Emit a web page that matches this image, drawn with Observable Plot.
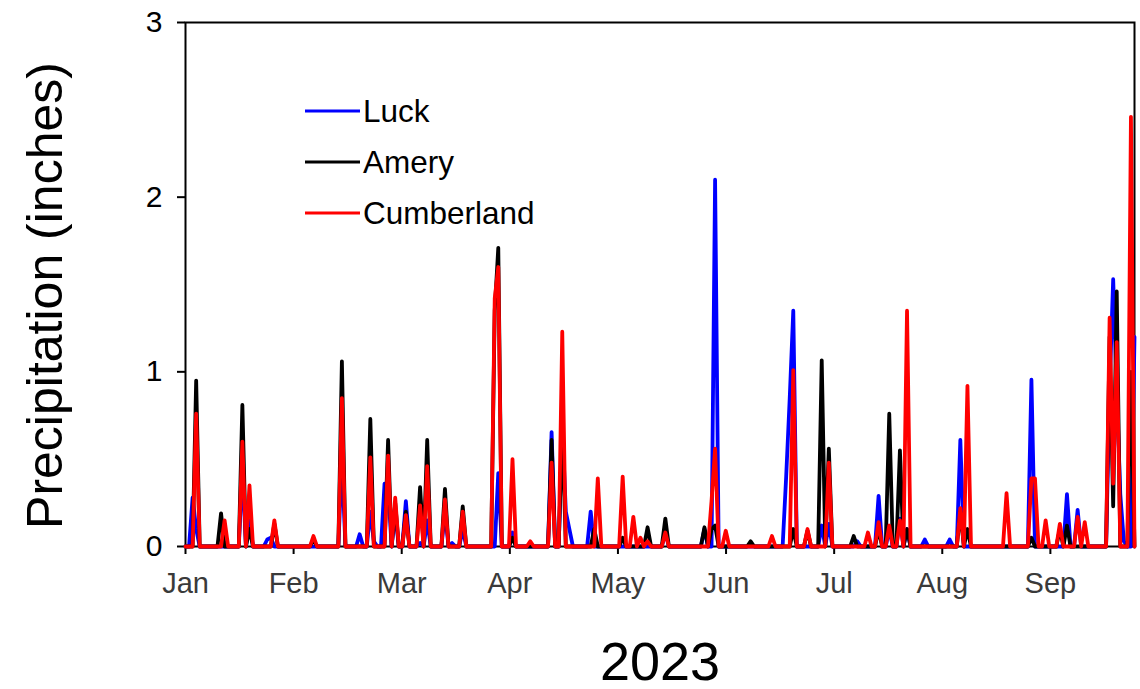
<!DOCTYPE html>
<html>
<head>
<meta charset="utf-8">
<script src="https://cdn.jsdelivr.net/npm/d3@7"></script>
<script src="https://cdn.jsdelivr.net/npm/@observablehq/plot@0.6"></script>
<style>
  html, body { margin: 0; padding: 0; background: #fff; }
  #chart { position: relative; width: 1140px; height: 689px; font-family: "Liberation Sans", Arial, sans-serif; }
  #legend { position: absolute; left: 0; top: 0; pointer-events: none; }
</style>
</head>
<body>
<div id="chart"></div>
<script>
// Daily precipitation (inches), 2023. Day index 0 = Jan 1; days not listed had no rain.
const stations = ["Luck", "Amery", "Cumberland"];
const stationColors = ["#0000ff", "#000000", "#ff0000"];
const monthLabels = ["Jan", "Feb", "Mar", "Apr", "May", "Jun", "Jul", "Aug", "Sep"];
const lastDay = 267;

const luckRain = [
  [2, 0.28], [3, 0.10], [16, 0.45], [18, 0.15], [23, 0.04], [24, 0.05],
  [44, 0.50], [49, 0.07], [52, 0.20], [53, 0.03], [56, 0.36], [57, 0.33], [59, 0.20],
  [62, 0.26], [66, 0.02], [68, 0.15], [73, 0.20], [75, 0.02], [78, 0.10], [88, 0.42], [92, 0.08],
  [103, 0.655], [106, 0.70], [107, 0.20], [108, 0.10], [114, 0.20],
  [135, 0.08], [146, 0.10], [149, 2.10],
  [169, 0.40], [170, 0.85], [171, 1.35], [179, 0.12], [181, 0.13],
  [189, 0.03], [195, 0.29], [198, 0.10], [201, 0.16], [203, 0.10], [208, 0.04], [215, 0.04],
  [218, 0.61], [238, 0.955],
  [248, 0.30], [251, 0.21], [260, 0.90], [261, 1.53], [262, 0.90], [263, 0.30], [264, 0.03], [267, 1.20]
];

const ameryRain = [
  [3, 0.95], [10, 0.19], [16, 0.81], [18, 0.10], [25, 0.13],
  [36, 0.04], [44, 1.06], [52, 0.73], [57, 0.61], [59, 0.25],
  [62, 0.20], [66, 0.34], [68, 0.61], [73, 0.33], [78, 0.23], [87, 1.35], [88, 1.71], [92, 0.05],
  [103, 0.61], [106, 0.71], [115, 0.10], [123, 0.05],
  [130, 0.11], [135, 0.16], [146, 0.11], [148, 0.10], [149, 0.12],
  [159, 0.03], [171, 0.10], [175, 0.09], [179, 1.066], [181, 0.56],
  [188, 0.06], [195, 0.10], [198, 0.76], [201, 0.55], [203, 0.10],
  [218, 0.20], [220, 0.10], [238, 0.05],
  [246, 0.10], [248, 0.12], [260, 1.20], [261, 0.23], [262, 1.46], [266, 1.00]
];

const cumberlandRain = [
  [3, 0.76], [11, 0.15], [16, 0.60], [18, 0.35], [25, 0.15],
  [36, 0.06], [44, 0.85], [52, 0.51], [57, 0.52], [59, 0.28],
  [62, 0.18], [66, 0.235], [68, 0.46], [73, 0.27], [78, 0.20], [87, 1.42], [88, 1.60], [92, 0.50],
  [97, 0.03], [103, 0.48], [106, 1.23], [116, 0.39], [123, 0.40],
  [126, 0.17], [128, 0.05], [130, 0.03], [135, 0.08], [148, 0.26], [149, 0.56], [152, 0.09],
  [165, 0.06], [171, 1.01], [175, 0.10], [181, 0.48],
  [192, 0.08], [195, 0.14], [198, 0.12], [201, 0.15], [203, 1.35],
  [218, 0.22], [220, 0.92], [231, 0.305], [238, 0.39], [239, 0.39], [242, 0.15],
  [246, 0.13], [251, 0.17], [253, 0.14], [260, 1.31], [261, 0.36], [262, 1.17], [266, 2.46]
];

const rainByStation = [luckRain, ameryRain, cumberlandRain];

// Expand each station's wet days into a full daily series (dry days = 0).
const rows = stations.flatMap((name, s) => {
  const wet = new Map(rainByStation[s]);
  return d3.range(0, lastDay + 1).map(day => ({station: name, day, inches: wet.get(day) ?? 0}));
});

// Month ticks are spaced evenly across the year.
const monthTicks = monthLabels.map((_, i) => i * 365 / 12);

const font = "'Liberation Sans', Arial, sans-serif";

const chart = Plot.plot({
  width: 1140,
  height: 689,
  marginLeft: 185,
  marginRight: 6,
  marginTop: 22,
  marginBottom: 143,
  style: {fontFamily: font, background: "#fff", overflow: "visible"},
  x: {domain: [0, lastDay]},
  y: {domain: [0, 3]},
  color: {domain: stations, range: stationColors},
  marks: [
    Plot.frame({stroke: "#000", strokeWidth: 2}),
    Plot.axisY({
      ticks: [0, 1, 2, 3], tickFormat: d => String(d), tickSize: 8, tickPadding: 15,
      fontSize: 30, fill: "#000", stroke: "#000", strokeWidth: 2, label: null
    }),
    Plot.axisX({
      ticks: monthTicks, tickFormat: (d, i) => monthLabels[i], tickSize: 8, tickPadding: 18,
      fontSize: 29, fill: "#3a3a3a", stroke: "#000", strokeWidth: 2, label: null
    }),
    ...stations.map(name =>
      Plot.line(rows.filter(r => r.station === name), {
        x: "day", y: "inches", stroke: "station", strokeWidth: 3.8
      })
    ),
    Plot.text(["Precipitation (inches)"], {
      frameAnchor: "left", textAnchor: "middle", rotate: -90,
      dx: -140, dy: 11, fontSize: 50, fill: "#000"
    }),
    Plot.text(["2023"], {
      frameAnchor: "bottom", dy: 133, fontSize: 54, fill: "#000"
    })
  ]
});

const holder = document.getElementById("chart");
holder.appendChild(chart);

// Legend inside the plot area
const legend = d3.select(holder).append("svg")
  .attr("id", "legend")
  .attr("width", 1140).attr("height", 689);
stations.forEach((name, i) => {
  const y = 111 + i * 51;
  legend.append("line")
    .attr("x1", 305).attr("x2", 360).attr("y1", y).attr("y2", y)
    .attr("stroke", stationColors[i]).attr("stroke-width", 3);
  legend.append("text")
    .attr("x", 363).attr("y", y).attr("dy", "0.36em")
    .attr("font-family", font).attr("font-size", 31.5).attr("fill", "#000")
    .text(name);
});
</script>
</body>
</html>
